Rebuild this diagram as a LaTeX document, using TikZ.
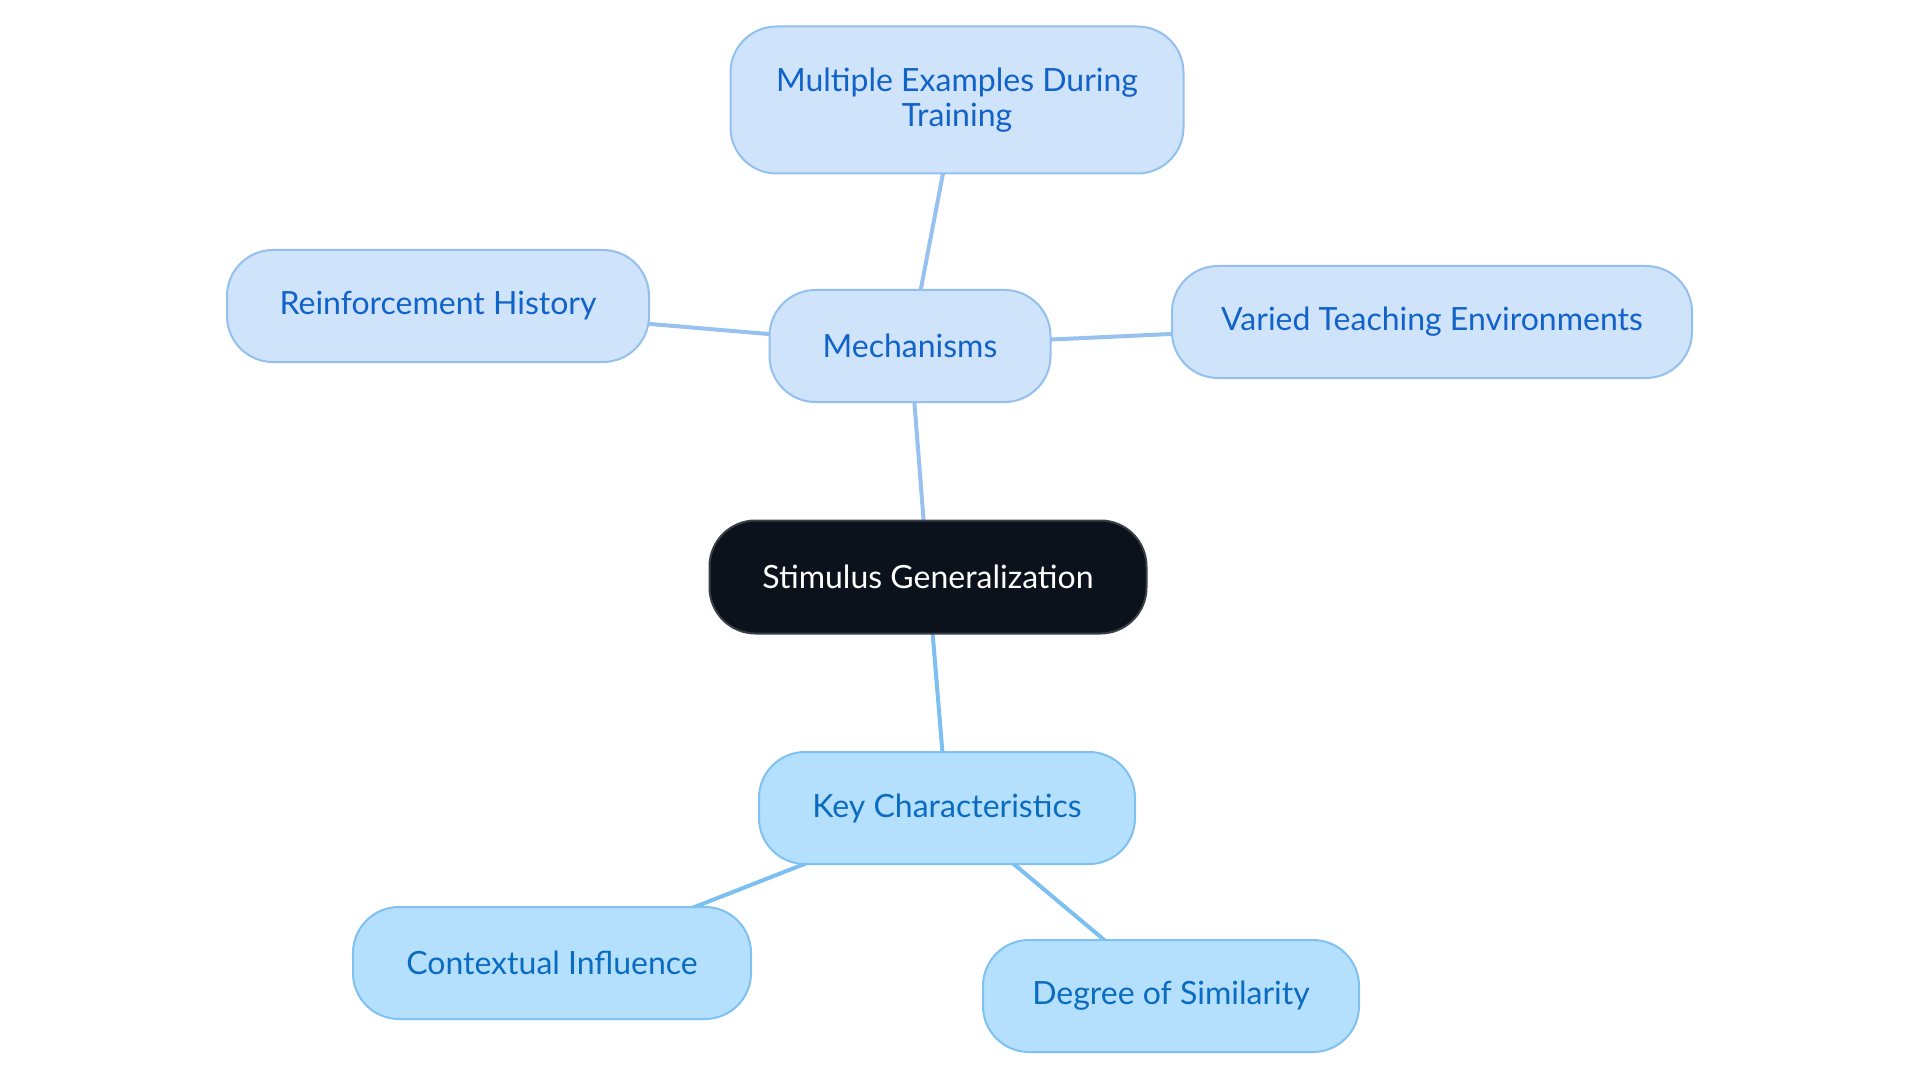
\documentclass[tikz,border=0pt]{standalone}
\usepackage{fontspec}
\setmainfont{Lato}
\usetikzlibrary{backgrounds}
\definecolor{topfill}{HTML}{CFE3FB}
\definecolor{topdraw}{HTML}{94C0EE}
\definecolor{toptext}{HTML}{1263C9}
\definecolor{botfill}{HTML}{B4DFFD}
\definecolor{botdraw}{HTML}{7FC1F1}
\definecolor{bottext}{HTML}{0A6CC0}
\definecolor{rootfill}{HTML}{0B121C}
\definecolor{rootdraw}{HTML}{3A3F47}
\definecolor{topedge}{HTML}{97C1EF}
\definecolor{botedge}{HTML}{7CBFF1}
\tikzset{
  box/.style={rectangle, rounded corners=46pt, line width=2pt, inner sep=0pt,
    align=center, font=\fontsize{32}{35}\selectfont, minimum height=112pt},
  mech/.style={box, fill=topfill, draw=topdraw, text=toptext},
  keyc/.style={box, fill=botfill, draw=botdraw, text=bottext},
  rootbox/.style={box, fill=rootfill, draw=rootdraw, text=white},
  topline/.style={draw=topedge, line width=4pt},
  botline/.style={draw=botedge, line width=4pt},
}
\begin{document}
\begin{tikzpicture}[x=1pt,y=-1pt]
\useasboundingbox (0,0) rectangle (1920,1083);
\node[rootbox, minimum width=437pt, minimum height=113pt] (root) at (928,577) {Stimulus Generalization};
\node[mech, minimum width=281pt] (mech) at (910,346) {Mechanisms};
\node[mech, minimum width=453pt, minimum height=147pt] (multi) at (957,100) {Multiple Examples During\\Training};
\node[mech, minimum width=422pt] (reinf) at (438,306) {Reinforcement History};
\node[mech, minimum width=520pt] (varied) at (1432,322) {Varied Teaching Environments};
\node[keyc, minimum width=376pt] (key) at (947,808) {Key Characteristics};
\node[keyc, minimum width=398pt] (ctx) at (552,963) {Contextual Influence};
\node[keyc, minimum width=376pt] (deg) at (1171,996) {Degree of Similarity};
\begin{scope}[on background layer]
\draw[topline] (root.center) -- (mech.center);
\draw[topline] (mech.center) -- (multi.center);
\draw[topline] (mech.center) -- (reinf.center);
\draw[topline] (mech.center) -- (varied.center);
\draw[botline] (root.center) -- (key.center);
\draw[botline] (key.center) -- (ctx.center);
\draw[botline] (key.center) -- (deg.center);
\end{scope}
\end{tikzpicture}
\end{document}
